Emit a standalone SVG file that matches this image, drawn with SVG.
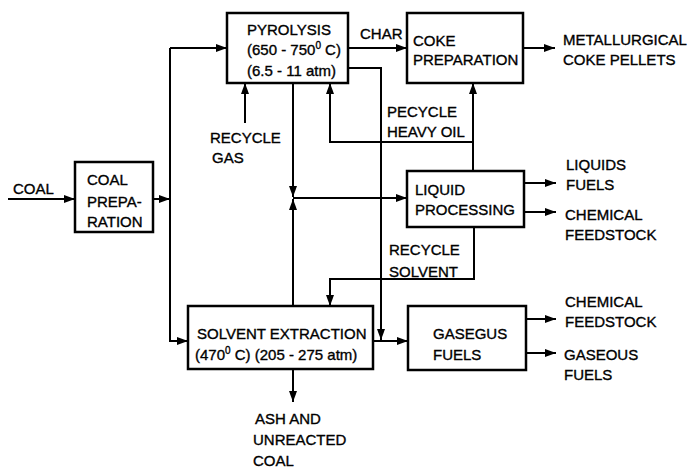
<svg xmlns="http://www.w3.org/2000/svg" width="691" height="472" viewBox="0 0 691 472">
<style>
.box{fill:#fff;stroke:#000;stroke-width:2.5}
.ln{fill:none;stroke:#000;stroke-width:2}
.t{font-family:"Liberation Sans",Arial,sans-serif;font-size:15px;fill:#000;stroke:#000;stroke-width:0.35}
.sup{font-size:10px}
</style>
<defs>
<marker id="ah" markerUnits="userSpaceOnUse" markerWidth="12" markerHeight="10" refX="11" refY="4" orient="auto">
<path d="M0,0 L11,4 L0,8 Z" fill="#000"/>
</marker>
</defs>
<rect width="691" height="472" fill="#fff"/>
<g id="connectors">
<path class="ln" d="M8 199 H75" marker-end="url(#ah)"/>
<path class="ln" d="M153 199 H170" marker-end="url(#ah)"/>
<path class="ln" d="M170 48 H227" marker-end="url(#ah)"/>
<path class="ln" d="M170 48 V341 H188" marker-end="url(#ah)"/>
<path class="ln" d="M348 48 H407" marker-end="url(#ah)"/>
<path class="ln" d="M348 68 H381 V340" marker-end="url(#ah)"/>
<path class="ln" d="M373 341 H408" marker-end="url(#ah)"/>
<path class="ln" d="M245 123 V83" marker-end="url(#ah)"/>
<path class="ln" d="M293 83 V197" marker-end="url(#ah)"/>
<path class="ln" d="M293 306 V199" marker-end="url(#ah)"/>
<path class="ln" d="M293 198 H407" marker-end="url(#ah)"/>
<path class="ln" d="M473 171 V83" marker-end="url(#ah)"/>
<path class="ln" d="M473 142 H330 V83" marker-end="url(#ah)"/>
<path class="ln" d="M474 227 V279 H330 V306" marker-end="url(#ah)"/>
<path class="ln" d="M293 369 V402" marker-end="url(#ah)"/>
<path class="ln" d="M523 48 H555" marker-end="url(#ah)"/>
<path class="ln" d="M524 183 H556" marker-end="url(#ah)"/>
<path class="ln" d="M524 212 H556" marker-end="url(#ah)"/>
<path class="ln" d="M526 319 H556" marker-end="url(#ah)"/>
<path class="ln" d="M526 353 H556" marker-end="url(#ah)"/>
</g>
<g id="coal-preparation">
<rect class="box" x="75" y="162" width="78" height="70"/>
<text class="t" x="87" y="185">COAL</text>
<text class="t" x="87" y="207">PREPA-</text>
<text class="t" x="87" y="227">RATION</text>
</g>
<g id="pyrolysis">
<rect class="box" x="227" y="13" width="121" height="70"/>
<text class="t" x="247" y="35">PYROLYSIS</text>
<text class="t" x="247" y="55">(650 - 750<tspan class="sup" dy="-6">0</tspan><tspan dy="6"> C)</tspan></text>
<text class="t" x="247" y="76">(6.5 - 11 atm)</text>
</g>
<g id="coke-preparation">
<rect class="box" x="407" y="13" width="116" height="70"/>
<text class="t" x="413" y="46">COKE</text>
<text class="t" x="413" y="65">PREPARATION</text>
</g>
<g id="liquid-processing">
<rect class="box" x="407" y="171" width="117" height="56"/>
<text class="t" x="415" y="195">LIQUID</text>
<text class="t" x="415" y="215">PROCESSING</text>
</g>
<g id="solvent-extraction">
<rect class="box" x="188" y="306" width="185" height="63"/>
<text class="t" x="197" y="339">SOLVENT EXTRACTION</text>
<text class="t" x="195" y="360">(470<tspan class="sup" dy="-6">0</tspan><tspan dy="6"> C) (205 - 275 atm)</tspan></text>
</g>
<g id="gaseous-fuels">
<rect class="box" x="408" y="306" width="118" height="64"/>
<text class="t" x="433" y="339">GASEGUS</text>
<text class="t" x="433" y="360">FUELS</text>
</g>
<g id="labels">
<text class="t" x="13" y="194">COAL</text>
<text class="t" x="360" y="39">CHAR</text>
<text class="t" x="210" y="143">RECYCLE</text>
<text class="t" x="212" y="163">GAS</text>
<text class="t" x="387" y="117">PECYCLE</text>
<text class="t" x="387" y="137">HEAVY OIL</text>
<text class="t" x="389" y="255">RECYCLE</text>
<text class="t" x="389" y="277">SOLVENT</text>
<text class="t" x="255" y="424">ASH AND</text>
<text class="t" x="253" y="445">UNREACTED</text>
<text class="t" x="253" y="466">COAL</text>
<text class="t" x="563" y="45">METALLURGICAL</text>
<text class="t" x="563" y="65">COKE PELLETS</text>
<text class="t" x="566" y="170">LIQUIDS</text>
<text class="t" x="566" y="190">FUELS</text>
<text class="t" x="565" y="220">CHEMICAL</text>
<text class="t" x="565" y="240">FEEDSTOCK</text>
<text class="t" x="565" y="307">CHEMICAL</text>
<text class="t" x="565" y="327">FEEDSTOCK</text>
<text class="t" x="564" y="360">GASEOUS</text>
<text class="t" x="564" y="380">FUELS</text>
</g>
</svg>
